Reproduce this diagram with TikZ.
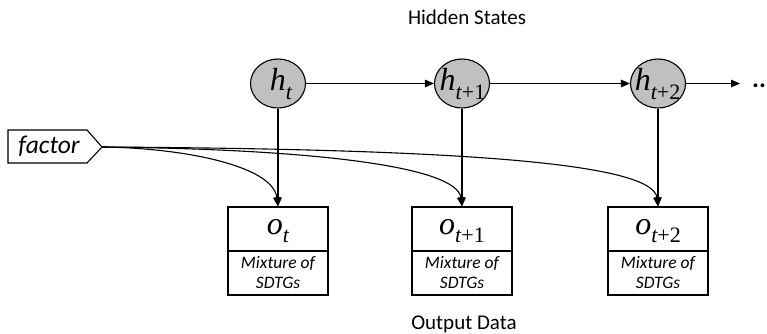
\documentclass[tikz,border=0pt]{standalone}
\usepackage{fontspec}
\setmainfont{Carlito}
\newfontfamily\tms{Liberation Serif}
\usetikzlibrary{shapes.geometric,arrows.meta}
\definecolor{hgray}{RGB}{192,192,192}
% variable with subscript: #1 letter, #2 italic index, #3 upright offset
\newcommand{\sym}[3]{{\tms\itshape\fontsize{32}{32}\selectfont #1}\raisebox{-8.5pt}{\tms\itshape\fontsize{22}{22}\selectfont #2\upshape #3}}
\begin{document}
\begin{tikzpicture}[x=1pt,y=-1pt,line width=1.1pt,
  hid/.style={ellipse,draw,fill=hgray,minimum width=55pt,minimum height=49pt,inner sep=0pt},
  lbl/.style={inner sep=0pt},
  obox/.style={rectangle,draw,minimum width=100pt,minimum height=44pt,inner sep=0pt},
  mix/.style={align=center,font=\fontsize{17.5}{20}\selectfont\itshape},
  titletext/.style={font=\fontsize{21}{22}\selectfont},
  arr/.style={-{Triangle[length=9pt,width=7.5pt]}}]
\useasboundingbox (0,0) rectangle (767,333);

% titles
\node[titletext] (top) at (467,17) {Hidden States};
\node[titletext] (bot) at (464,324) {Output Data};

% hidden state chain
\node[hid] (h1) at (278,83.5) {};
\node[hid] (h2) at (462,83.5) {};
\node[hid] (h3) at (658,83.5) {};
\node[lbl] (h1l) at (281,84) {\sym{h}{t}{}};
\node[lbl] (h2l) at (462.5,84) {\sym{h}{t}{+1}};
\node[lbl] (h3l) at (657.5,84) {\sym{h}{t}{+2}};
\coordinate (more) at (740,83.5);
\node[font=\fontsize{26}{26}\selectfont\bfseries,inner sep=0pt] (dots) at (759,86) {..};

\draw[arr] (h1) -- (h2);
\draw[arr] (h2) -- (h3);
\draw[arr] (h3) -- (more);

% observation boxes
\foreach \n/\x/\s in {1/278/{}, 2/462/{+1}, 3/658/{+2}}{
  \node[obox] (o\n) at (\x,229) {};
  \node[lbl] (o\n l) at (\x,231) {\sym{o}{t}{\s}};
  \node[obox,mix] (m\n) at (\x,273) {Mixture of\\SDTGs};
}

\draw[arr] (h1.south) -- (o1.north);
\draw[arr] (h2.south) -- (o2.north);
\draw[arr] (h3.south) -- (o3.north);

% factor input
\node[inner sep=0pt,font=\fontsize{25.5}{26}\selectfont\itshape] (factor) at (49,146) {factor};
\draw (8,130) -- (87,130) -- (102,147) -- (87,163) -- (8,163) -- cycle;
\coordinate (ftip) at (102,147);

\draw[arr] (ftip) .. controls (185,148) and (273,166) .. (o1.north);
\draw[arr] (ftip) .. controls (310,149) and (457,166) .. (o2.north);
\draw[arr] (ftip) .. controls (460,149) and (653,163) .. (o3.north);
\end{tikzpicture}
\end{document}
